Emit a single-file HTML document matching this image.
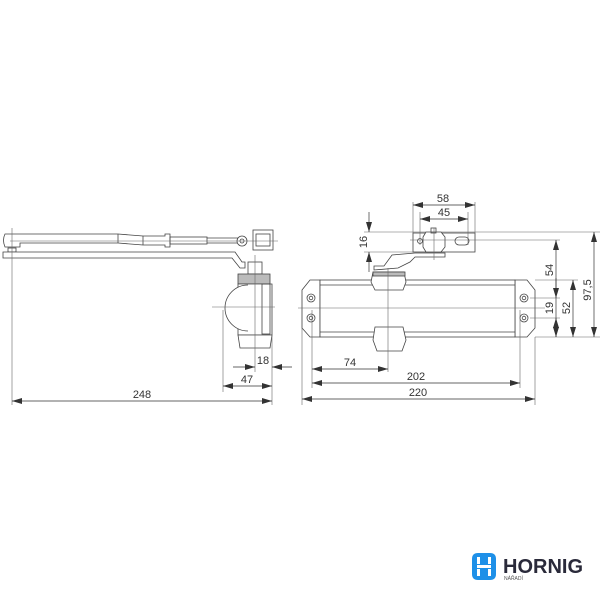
<!DOCTYPE html>
<html><head><meta charset="utf-8"><style>
html,body{margin:0;padding:0;background:#fff;}
svg{display:block}
text{font-family:"Liberation Sans",sans-serif;fill:#333}
</style></head><body>
<svg width="600" height="600" viewBox="0 0 600 600" xmlns="http://www.w3.org/2000/svg">
<defs>
<marker id="a" viewBox="0 0 10 6" refX="10" refY="3" markerWidth="10" markerHeight="6" orient="auto-start-reverse" markerUnits="userSpaceOnUse"><path d="M0,0 L10,3 L0,6 z" fill="#333"/></marker>
</defs>
<g stroke="#444" stroke-width="0.8" fill="none">
<!-- LEFT VIEW -->
<path d="M5,234 L118,234 L143,236 L165,236 L165,234 L170,234 L170,247 L165,247 L165,245 L143,245 L118,243 L20,243 L20,247 L5,247 Q2,240 5,234 Z" fill="#fff"/>
<line x1="118" y1="234" x2="118" y2="243"/><line x1="143" y1="236" x2="143" y2="245"/>
<rect x="170" y="237" width="37" height="7"/>
<line x1="207" y1="238" x2="238" y2="238"/><line x1="207" y1="243" x2="238" y2="243"/>
<circle cx="242" cy="241" r="5" fill="#fff"/><circle cx="242" cy="241" r="2"/>
<rect x="253" y="230" width="20" height="20" fill="#fff"/>
<rect x="256" y="234" width="14" height="12"/>
<rect x="8" y="248" width="8" height="4"/>
<path d="M3,252 L235,252 L242,262 L245,262 L245,268 L240,268 L232,258 L3,258 Z" fill="#fff"/>
<rect x="248" y="262" width="14" height="12" fill="#fff"/>
<rect x="238" y="274" width="32" height="10" fill="#bbb"/>
<path d="M238,284 L272,284 L272,335 L238,335 Z" fill="#fff"/>
<path d="M248,285 A23,23 0 0 0 248,331" fill="#fff"/>
<rect x="262" y="284" width="8" height="50"/>
<path d="M238,335 L272,335 L270,348 L240,348 Z" fill="#fff"/>
</g>
<g stroke="#666" stroke-width="0.6" fill="none">
<line x1="12" y1="228" x2="12" y2="405"/>
<line x1="272" y1="290" x2="272" y2="405"/>
<line x1="255" y1="255" x2="255" y2="372"/>
<line x1="223" y1="310" x2="223" y2="392"/>
<line x1="212" y1="307" x2="275" y2="307"/>
<line x1="10" y1="241" x2="278" y2="241"/>
</g>
<g stroke="#333" stroke-width="0.7" fill="none">
<line x1="12" y1="401" x2="272" y2="401" marker-start="url(#a)" marker-end="url(#a)"/>
<line x1="223" y1="386" x2="272" y2="386" marker-start="url(#a)" marker-end="url(#a)"/>
<line x1="233" y1="367" x2="255" y2="367" marker-end="url(#a)"/>
<line x1="292" y1="367" x2="272" y2="367" marker-end="url(#a)"/>
</g>
<text x="142" y="398" font-size="11" text-anchor="middle">248</text>
<text x="247" y="383" font-size="11" text-anchor="middle">47</text>
<text x="263" y="364" font-size="11" text-anchor="middle">18</text>

<!-- RIGHT VIEW -->
<g stroke="#444" stroke-width="0.8" fill="none">
<path d="M302,290 L310,280 L320,280 L320,337 L310,337 L302,328 Z" fill="#fff"/>
<path d="M515,280 L527,280 L535,290 L535,328 L527,337 L515,337 Z" fill="#fff"/>
<rect x="320" y="280" width="195" height="57" fill="#fff"/>
<line x1="320" y1="285" x2="515" y2="285"/><line x1="320" y1="332" x2="515" y2="332"/>
<circle cx="311" cy="298" r="4"/><circle cx="311" cy="298" r="1.8"/>
<circle cx="311" cy="318" r="4"/><circle cx="311" cy="318" r="1.8"/>
<circle cx="524" cy="298" r="4"/><circle cx="524" cy="298" r="1.8"/>
<circle cx="524" cy="318" r="4"/><circle cx="524" cy="318" r="1.8"/>
<path d="M373,272 L404,272 L406,282 L403,290 L375,290 L371,282 Z" fill="#fff"/>
<rect x="373" y="272" width="32" height="4" fill="#bbb"/>
<path d="M375,327 L403,327 L406,340 L402,351 L377,351 L373,340 Z" fill="#fff"/>
<path d="M374,266 L384,266 L392,255 L415,253 L445,253 L445,257 L415,257 L410,262 L398,268 L374,270 Z" fill="#fff"/>
<rect x="413" y="233" width="62" height="19" fill="#fff"/>
<circle cx="420" cy="241" r="2.5"/>
<rect x="455" y="237" width="14" height="8" rx="4"/>
<path d="M426,232 L441,232 L445,237 L445,247 L441,252 L426,252 L423,247 L423,237 Z" fill="#fff"/>
<rect x="431" y="228" width="5" height="5"/>
</g>
<g stroke="#666" stroke-width="0.6" fill="none">
<line x1="302" y1="295" x2="302" y2="405"/>
<line x1="535" y1="337" x2="535" y2="405"/>
<line x1="312" y1="310" x2="312" y2="388"/>
<line x1="520" y1="310" x2="520" y2="388"/>
<line x1="388" y1="268" x2="388" y2="372"/>
<line x1="434" y1="228" x2="434" y2="260"/>
<line x1="413" y1="202" x2="413" y2="240"/>
<line x1="475" y1="202" x2="475" y2="240"/>
<line x1="420" y1="212" x2="420" y2="245"/>
<line x1="468" y1="212" x2="468" y2="245"/>
<line x1="364" y1="232" x2="600" y2="232"/>
<line x1="364" y1="252" x2="413" y2="252"/>
<line x1="410" y1="240" x2="560" y2="240"/>
<line x1="535" y1="280" x2="578" y2="280"/>
<line x1="530" y1="298" x2="560" y2="298"/>
<line x1="530" y1="318" x2="560" y2="318"/>
<line x1="535" y1="337" x2="600" y2="337"/>
<line x1="298" y1="308" x2="545" y2="308"/>
</g>
<g stroke="#333" stroke-width="0.7" fill="none">
<line x1="413" y1="205" x2="475" y2="205" marker-start="url(#a)" marker-end="url(#a)"/>
<line x1="420" y1="219" x2="468" y2="219" marker-start="url(#a)" marker-end="url(#a)"/>
<line x1="369" y1="212" x2="369" y2="232" marker-end="url(#a)"/>
<line x1="369" y1="272" x2="369" y2="252" marker-end="url(#a)"/>
<line x1="556" y1="240" x2="556" y2="337" marker-start="url(#a)" marker-end="url(#a)"/>
<line x1="556" y1="278" x2="556" y2="298" marker-end="url(#a)"/>
<line x1="556" y1="337" x2="556" y2="318" marker-end="url(#a)"/>
<line x1="573" y1="280" x2="573" y2="337" marker-start="url(#a)" marker-end="url(#a)"/>
<line x1="594" y1="232" x2="594" y2="337" marker-start="url(#a)" marker-end="url(#a)"/>
<line x1="312" y1="369" x2="388" y2="369" marker-start="url(#a)" marker-end="url(#a)"/>
<line x1="312" y1="383" x2="520" y2="383" marker-start="url(#a)" marker-end="url(#a)"/>
<line x1="302" y1="399" x2="535" y2="399" marker-start="url(#a)" marker-end="url(#a)"/>
</g>
<text x="443" y="202" font-size="11" text-anchor="middle">58</text>
<text x="444" y="216" font-size="11" text-anchor="middle">45</text>
<text x="367" y="242" font-size="11" text-anchor="middle" transform="rotate(-90 367 242)">16</text>
<text x="553" y="270" font-size="11" text-anchor="middle" transform="rotate(-90 553 270)">54</text>
<text x="553" y="308" font-size="11" text-anchor="middle" transform="rotate(-90 553 308)">19</text>
<text x="570" y="308" font-size="11" text-anchor="middle" transform="rotate(-90 570 308)">52</text>
<text x="591" y="290" font-size="11" text-anchor="middle" transform="rotate(-90 591 290)">97,5</text>
<text x="350" y="366" font-size="11" text-anchor="middle">74</text>
<text x="416" y="380" font-size="11" text-anchor="middle">202</text>
<text x="418" y="396" font-size="11" text-anchor="middle">220</text>

<!-- LOGO -->
<g fill="#1e90e8">
<path d="M478,553 L490,553 Q496,553 496,559 L496,574 Q496,580 490,580 L478,580 Q472,580 472,574 L472,559 Q472,553 478,553 Z"/>
</g>
<g fill="#fff">
<rect x="477" y="557" width="3" height="7"/><rect x="488" y="557" width="3" height="7"/>
<rect x="477" y="569" width="3" height="7"/><rect x="488" y="569" width="3" height="7"/>
<rect x="477" y="565" width="14" height="3"/>
</g>
<text x="503" y="573" font-size="20" font-weight="bold" style="fill:#2a2a3a">HORNIG</text>
<text x="504" y="580" font-size="5" style="fill:#555">NÁŘADÍ</text>
</svg>
</body></html>
